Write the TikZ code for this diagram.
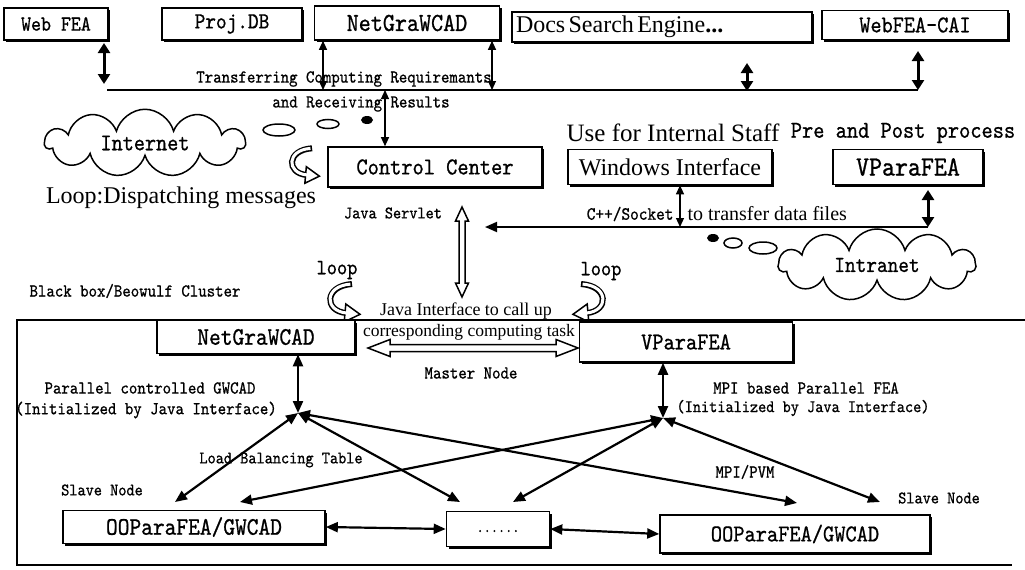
\documentclass[tikz,border=0pt]{standalone}
\usepackage{fontspec}
\setmainfont{Liberation Serif}
\newfontfamily\sun[FakeStretch=0.883,FakeBold=0.8]{lmmono10-regular.otf}
\usetikzlibrary{arrows.meta,shapes.symbols,shadows,calc}
\newcommand\fsz[1]{\fontsize{#1}{#1}\selectfont}
\tikzset{
  box/.style={draw, line width=1.6pt, fill=white, inner sep=0pt,
    drop shadow={shadow xshift=2.2pt, shadow yshift=-2.2pt, fill=black, opacity=1}},
  thickarr/.style={line width=3pt, {Triangle[length=10pt,width=12pt]}-{Triangle[length=10pt,width=12pt]}},
  thinarr/.style={line width=1.1pt, {Triangle[length=9pt,width=8pt]}-{Triangle[length=9pt,width=8pt]}},
  diag/.style={line width=2.2pt, {Triangle[length=12pt,width=10pt]}-{Triangle[length=12pt,width=10pt]}},
  hollow/.style={line width=1.5pt, fill=white},
  bubble/.style={line width=1.5pt},
  netcloud/.style={cloud, draw, line width=1.5pt, cloud puffs=11, aspect=3, inner sep=0pt},
  loopc/.pic={
    \draw[line width=6pt] (12,-16) .. controls (-16,-14) and (-16,11) .. (6,13);
    \draw[line width=1.5pt, fill=white] (5.8,4) -- (20,14.3) -- (4.2,22) -- cycle;
    \draw[white, line width=3pt, shorten <=1.6pt] (12,-16) .. controls (-16,-14) and (-16,11) .. (6.5,13);
  }
}
\begin{document}
\begin{tikzpicture}[x=1pt,y=-1pt]
\useasboundingbox (0,0) rectangle (1025,570);

% ---------- top row ----------
\node[box, minimum width=104, minimum height=32] (webfea) at (56,24) {\sun\fsz{21.5}Web FEA};
\node[box, minimum width=140, minimum height=32] (projdb) at (232,24) {\sun\fsz{23}Proj.DB};
\node[box, minimum width=185, minimum height=34] (netg1) at (407,23) {\sun\fsz{26}NetGraWCAD};
\node[box, minimum width=300, minimum height=30, text width=292, align=left] (docs) at (662,27) {\fsz{24}Docs Search Engine\textbf{...}};
\node[box, minimum width=186, minimum height=29] (cai) at (915,25) {\sun\fsz{24}WebFEA-CAI};

\coordinate (busL) at (107,90);
\coordinate (busR) at (918,90);
\draw[line width=1.8pt] (busL) -- (busR);

\node (ttr) at (344,79) {\sun\fsz{18.2}Transferring Computing Requiremants};
\node (trr) at (361,104) {\sun\fsz{18.2}and Receiving Results};

\coordinate (a1t) at (104,43);
\coordinate (a1b) at (104,84);
\draw[thickarr] (a1t) -- (a1b);
\coordinate (a2) at (323,90);
\coordinate (a3) at (492,90);
\draw[thinarr] (netg1.south -| a2) -- (a2);
\draw[thinarr] (netg1.south -| a3) -- (a3);
\coordinate (a4t) at (747,63);
\coordinate (a4b) at (747,91);
\draw[thickarr] (a4t) -- (a4b);
\coordinate (a5t) at (918,51);
\draw[thickarr] (a5t) -- (busR);

% ---------- middle ----------
\node[netcloud, minimum width=200, minimum height=66] (inet) at (145,143) {\sun\fsz{24}Internet};
\draw[bubble] (279,130) ellipse [x radius=16, y radius=6];
\draw[bubble] (328,124) ellipse [x radius=11, y radius=4.5];
\fill (367,120) ellipse [x radius=6, y radius=4];
\pic[scale=0.92] at (301,163) {loopc};
\node (disp) at (181,198) {\fsz{24}Loop:Dispatching messages};

\node[box, minimum width=214, minimum height=40] (cc) at (435,167) {\sun\fsz{24.2}Control Center};
\coordinate (a6) at (385,90);
\draw[thinarr] (a6) -- (cc.north -| a6);

\node (use) at (673,133) {\fsz{25}Use for Internal Staff};
\node (pre) at (903,133) {\sun\fsz{24.2}Pre and Post process};
\node[box, minimum width=204, minimum height=35] (win) at (670,167) {\fsz{24}Windows Interface};
\node[box, minimum width=150, minimum height=35] (vp1) at (908,167) {\sun\fsz{28}VParaFEA};

\coordinate (il) at (485,227);
\coordinate (ir) at (928,227);
\draw[line width=1.8pt, -{Triangle[length=12pt,width=10pt]}] (ir) -- (il);
\coordinate (wb) at (680,227);
\draw[thinarr] (win.south -| wb) -- (wb);
\coordinate (vt) at (928,190);
\draw[thickarr] (vt) -- (ir);
\node[anchor=east] (cpp) at (677,214) {\sun\fsz{18.7}C++/Socket};
\node[anchor=west] (tdf) at (684,214) {\fsz{20}to transfer data files};

\node[netcloud, minimum width=197, minimum height=72] (intra) at (877,265) {\sun\fsz{23}Intranet};
\fill (713,238) ellipse [x radius=6, y radius=4];
\draw[bubble] (733,243) ellipse [x radius=9, y radius=5];
\draw[bubble] (763,248) ellipse [x radius=14, y radius=6];

\node (serv) at (393,213) {\sun\fsz{17.6}Java Servlet};
\draw[hollow] (462,207) -- (468.5,221) -- (465,221) -- (465,283) -- (468.5,283) -- (462,297)
  -- (455.5,283) -- (459,283) -- (459,221) -- (455.5,221) -- cycle;

\node (loopl) at (337,270) {\sun\fsz{22}loop};
\pic at (340,300) {loopc};
\node (loopr) at (601,271) {\sun\fsz{22}loop};
\pic[xscale=-1] at (593,300) {loopc};

\node (bb) at (135,291) {\sun\fsz{18.2}Black box/Beowulf Cluster};

% ---------- cluster ----------
\draw[line width=1.8pt] (1025,320) -- (17,320) -- (17,565) -- (1012,565);

\node (jif) at (466,311) {\fsz{18}Java Interface to call up};
\node (cor) at (469,332) {\fsz{17.5}corresponding computing task};

\node[box, minimum width=198, minimum height=33] (ng2) at (256,337) {\sun\fsz{25.3}NetGraWCAD};
\node[box, minimum width=213, minimum height=40] (vp2) at (686,342) {\sun\fsz{24.2}VParaFEA};

\draw[hollow] (368,348) -- (390,339.5) -- (390,344.5) -- (556,344.5) -- (556,339.5) -- (578,348)
  -- (556,356.5) -- (556,351.5) -- (390,351.5) -- (390,356.5) -- cycle;
\node (mn) at (471,373) {\sun\fsz{18.2}Master Node};

\coordinate (hubL) at (298,413);
\coordinate (hubR) at (663,418);
\draw[diag] (ng2.south -| hubL) -- (hubL);
\draw[diag] (vp2.south -| hubR) -- (hubR);

\node (pcg) at (150,388) {\sun\fsz{18.2}Parallel controlled GWCAD};
\node (ini1) at (146,410) {\sun\fsz{18.2}(Initialized by Java Interface)};
\node (mpf) at (806,388) {\sun\fsz{18.2}MPI based Parallel FEA};
\node (ini2) at (803,408) {\sun\fsz{17.6}(Initialized by Java Interface)};
\node (lbt) at (281,460) {\sun\fsz{17.6}Load Balancing Table};
\node (sl1) at (102,490) {\sun\fsz{17.6}Slave Node};
\node (sl2) at (939,498) {\sun\fsz{17.6}Slave Node};
\node (mpv) at (745,472) {\sun\fsz{18.2}MPI/PVM};

\coordinate (s1) at (175,502);
\coordinate (s2) at (460,502);
\coordinate (s3) at (797,503);
\coordinate (s4) at (240,502);
\coordinate (s5) at (513,502);
\coordinate (s6) at (880,502);
\draw[diag] (hubL) -- (s1);
\draw[diag] (hubL) -- (s2);
\draw[diag] (hubL) -- (s3);
\draw[diag] (hubR) -- (s4);
\draw[diag] (hubR) -- (s5);
\draw[diag] (hubR) -- (s6);

\node[box, minimum width=262, minimum height=33] (oo1) at (194,527) {\sun\fsz{25.3}OOParaFEA/GWCAD};
\node[box, minimum width=103, minimum height=35] (dots) at (498,529) {\raisebox{-6pt}{\sun\fsz{15.4}......}};
\node[box, minimum width=270, minimum height=38] (oo2) at (795,534) {\sun\fsz{24.2}OOParaFEA/GWCAD};
\draw[diag] (oo1.east) -- (dots.west);
\draw[diag] (dots.east) -- (oo2.west);
\end{tikzpicture}
\end{document}
